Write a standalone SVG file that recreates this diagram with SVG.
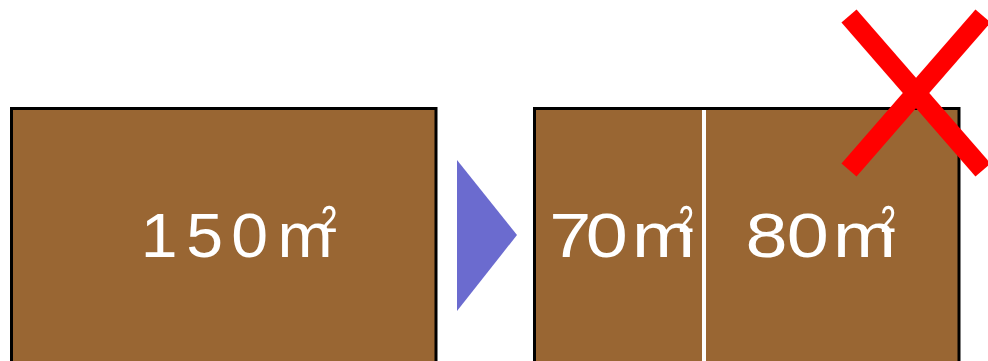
<svg xmlns="http://www.w3.org/2000/svg" width="988" height="361" viewBox="0 0 988 361">
  <style>
    .plot { fill: #996633; stroke: #000000; stroke-width: 3; }
    .divider { stroke: #FFFFFF; stroke-width: 4; }
    .area { fill: #FFFFFF; font-family: "Liberation Sans", "Noto Sans CJK JP", sans-serif; font-size: 63px; }
    .cross { stroke: #FF0000; stroke-width: 20; stroke-linecap: butt; }
    .flow { fill: #6B6BCF; }
  </style>

  <!-- original lot -->
  <g id="lot-total">
    <rect class="plot" x="11.5" y="108.5" width="424.5" height="270"/>
    <text class="area" transform="scale(1.05,1)" y="257.5" x="134.1 177.3 220.2 264.4">150m<tspan x="306" dy="-8" textLength="14.7" lengthAdjust="spacingAndGlyphs">²</tspan></text>
  </g>

  <!-- lot after subdivision -->
  <g id="lot-split">
    <rect class="plot" x="534.5" y="108.5" width="424.5" height="270"/>
    <line class="divider" x1="704" y1="110" x2="704" y2="370"/>
  </g>
  <g id="part-70">
    <text class="area" transform="scale(1.2,1)" y="257.5" x="457.7 488.2 526.7">70m<tspan x="565.8" dy="-8" textLength="11.9" lengthAdjust="spacingAndGlyphs">²</tspan></text>
  </g>
  <g id="part-80">
    <text class="area" transform="scale(1.2,1)" y="257.5" x="621.3 655.7 694.2">80m<tspan x="734.2" dy="-8" textLength="11.9" lengthAdjust="spacingAndGlyphs">²</tspan></text>
  </g>

  <!-- rejected part -->
  <g id="reject-mark">
    <line class="cross" x1="849" y1="16" x2="983" y2="170"/>
    <line class="cross" x1="849" y1="170" x2="983" y2="16"/>
  </g>

  <g id="connectors">
    <polygon class="flow" points="457,160 517,235 457,311"/>
  </g>
</svg>
